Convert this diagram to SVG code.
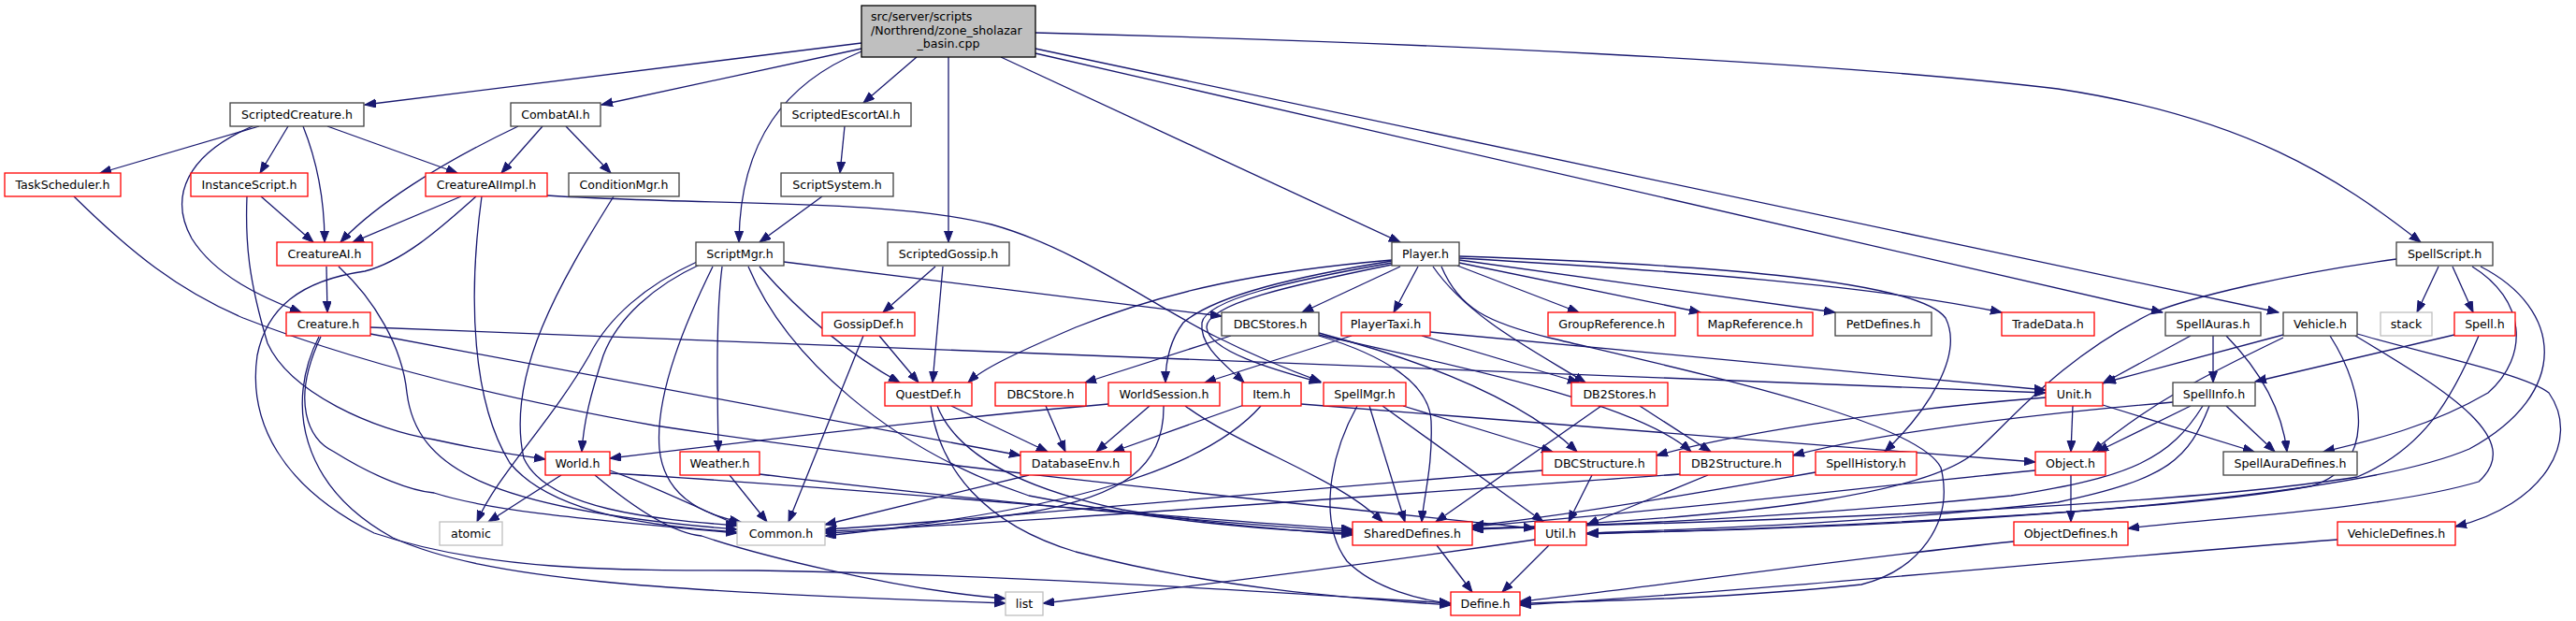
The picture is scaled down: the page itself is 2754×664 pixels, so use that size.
<svg xmlns="http://www.w3.org/2000/svg" width="2754" height="664" viewBox="0 0 2754 664">
<defs>
<style>
.bg{fill:#fff}
rect.n{fill:#fff;stroke:#404040;stroke-width:1.3}
rect.r{fill:#fff;stroke:#ff0000;stroke-width:1.3}
rect.g{fill:#fff;stroke:#bfbfbf;stroke-width:1.3}
rect.root{fill:#bfbfbf;stroke:#000;stroke-width:1.3}
text{font-family:"DejaVu Sans","Liberation Sans",sans-serif;font-size:12.6px;fill:#000;text-anchor:middle}
text.l{text-anchor:start}
#edges path{fill:none;stroke:#191970;stroke-width:1.3;marker-end:url(#ah)}
</style>
<marker id="ah" markerUnits="userSpaceOnUse" markerWidth="13" markerHeight="10" refX="12" refY="4.5" orient="auto">
<path d="M0,0 L12,4.5 L0,9 z" fill="#191970" stroke="#191970" stroke-width="1"/>
</marker>
</defs>
<rect class="bg" x="0" y="0" width="2754" height="664"/>
<g id="edges">
<path d="M921,46 L390,112"/>
<path d="M921,52 L643,112"/>
<path d="M921,55 C840,88 791,150 790,259"/>
<path d="M980,61 L923,110"/>
<path d="M1014,61 L1014,259"/>
<path d="M1070,61 L1497,259"/>
<path d="M1107,35 C1500,45 1950,65 2200,95 C2400,125 2500,190 2588,259"/>
<path d="M1107,52 L2436,334"/>
<path d="M1107,57 L2312,334"/>
<path d="M277,135 L107,185"/>
<path d="M270,135 C200,165 180,210 205,255 C230,295 280,318 322,334"/>
<path d="M308,135 L278,185"/>
<path d="M324,135 C340,175 347,215 347,259"/>
<path d="M350,135 L489,185"/>
<path d="M554,135 C470,175 400,220 364,259"/>
<path d="M580,135 L536,185"/>
<path d="M605,135 L653,185"/>
<path d="M903,135 L898,185"/>
<path d="M879,210 L812,259"/>
<path d="M79,210 C140,270 190,310 260,340 C400,395 560,430 700,455 C1000,500 1400,540 1641,565"/>
<path d="M279,210 L335,259"/>
<path d="M264,210 C262,260 266,300 286,367 C310,420 400,460 464,470 C500,478 540,485 583,491"/>
<path d="M493,210 L377,259"/>
<path d="M509,210 C470,245 430,280 390,290 C320,300 285,330 275,380 C265,450 300,520 400,570 C520,610 650,610 810,610 C1100,615 1400,636 1551,645"/>
<path d="M515,210 C500,320 505,430 545,495 C590,550 700,563 788,569"/>
<path d="M585,209 C750,220 950,212 1060,240 C1150,265 1230,325 1300,360 C1350,385 1390,400 1412,408"/>
<path d="M656,210 C600,300 540,400 560,490 C585,545 700,555 788,562"/>
<path d="M349,285 L350,334"/>
<path d="M362,285 C400,320 430,370 435,420 C445,500 520,545 788,566"/>
<path d="M396,350 L2187,420"/>
<path d="M396,357 L1091,487"/>
<path d="M343,360 C310,430 330,470 357,483 C400,510 440,525 464,527 C520,545 600,553 788,570"/>
<path d="M341,360 C305,430 320,520 420,575 C520,620 700,632 1075,645"/>
<path d="M838,280 L1306,338"/>
<path d="M812,285 C860,340 910,380 962,409"/>
<path d="M748,283 C700,305 660,340 645,380 C632,420 624,450 622,483"/>
<path d="M745,280 C690,305 650,340 630,380 C590,450 530,510 510,558"/>
<path d="M772,285 C765,340 767,420 768,483"/>
<path d="M762,285 C735,340 700,420 705,480 C710,530 750,550 792,558"/>
<path d="M800,285 C840,380 950,480 1100,530 C1250,560 1380,568 1446,570"/>
<path d="M1000,285 L944,334"/>
<path d="M1008,285 L997,409"/>
<path d="M940,359 L982,409"/>
<path d="M923,359 L843,558"/>
<path d="M1017,434 L1120,483"/>
<path d="M1002,434 C1020,480 1080,520 1200,545 C1300,562 1400,568 1446,572"/>
<path d="M995,434 C1005,500 1050,560 1150,590 C1300,630 1450,640 1551,647"/>
<path d="M1118,434 L1139,483"/>
<path d="M1229,434 L1172,483"/>
<path d="M1244,434 C1245,500 1200,530 1100,548 C1000,562 930,568 882,570"/>
<path d="M1185,432 C1000,448 800,472 652,490"/>
<path d="M1267,434 C1330,480 1430,510 1478,558"/>
<path d="M1330,433 L1190,483"/>
<path d="M1348,434 C1290,500 1150,545 882,573"/>
<path d="M1391,432 L2176,494"/>
<path d="M1488,278 C1350,290 1250,310 1150,350 C1080,380 1050,395 1035,409"/>
<path d="M1497,285 L1392,334"/>
<path d="M1488,279 C1390,295 1300,315 1265,345 C1250,365 1246,390 1246,409"/>
<path d="M1488,281 C1380,300 1290,320 1285,345 C1282,370 1310,390 1330,409"/>
<path d="M1488,283 C1380,305 1290,325 1290,350 C1292,375 1360,395 1412,409"/>
<path d="M1516,285 L1490,334"/>
<path d="M1558,284 L1688,334"/>
<path d="M1560,281 L1818,334"/>
<path d="M1560,278 L1962,334"/>
<path d="M1560,276 C1800,290 2000,305 2140,334"/>
<path d="M1560,274 C1800,282 2050,298 2080,340 C2100,380 2060,440 2015,483"/>
<path d="M1541,285 C1560,330 1590,345 1660,362 C1820,400 2050,450 2075,500 C2090,560 2050,610 1990,625 C1850,640 1700,643 1625,645"/>
<path d="M1532,285 C1570,340 1640,375 1695,409"/>
<path d="M1316,359 L1160,409"/>
<path d="M1410,356 C1500,380 1620,420 1686,483"/>
<path d="M1410,358 C1550,390 1750,430 1808,483"/>
<path d="M1410,359 C1480,380 1528,410 1530,450 C1532,500 1522,530 1520,558"/>
<path d="M1445,359 L1288,409"/>
<path d="M1520,359 L1688,409"/>
<path d="M1529,355 L2187,417"/>
<path d="M1500,434 L1660,483"/>
<path d="M1464,434 L1502,558"/>
<path d="M1478,434 L1650,558"/>
<path d="M1451,434 C1420,490 1410,560 1440,600 C1470,630 1520,642 1551,645"/>
<path d="M1753,434 L1829,483"/>
<path d="M1712,434 L1535,558"/>
<path d="M1702,508 L1677,558"/>
<path d="M1649,503 C1300,530 1000,560 882,566"/>
<path d="M1826,508 L1697,561"/>
<path d="M1796,507 C1400,535 1000,565 882,568"/>
<path d="M1941,505 C1800,530 1650,555 1574,562"/>
<path d="M1536,583 L1574,633"/>
<path d="M1656,583 L1606,633"/>
<path d="M1641,577 C1450,605 1250,630 1115,645"/>
<path d="M2153,579 C1950,600 1750,630 1625,643"/>
<path d="M2499,577 C2200,600 1900,630 1625,647"/>
<path d="M652,503 C700,520 750,545 790,562"/>
<path d="M600,508 L522,558"/>
<path d="M636,508 C680,545 720,570 750,573 C800,590 950,630 1075,640"/>
<path d="M652,506 C900,520 1200,550 1446,566"/>
<path d="M780,508 L820,558"/>
<path d="M812,507 C1000,530 1300,560 1446,568"/>
<path d="M1100,508 L882,561"/>
<path d="M2216,434 L2214,483"/>
<path d="M2248,433 L2410,483"/>
<path d="M2187,425 C2000,440 1850,465 1771,487"/>
<path d="M2342,434 L2242,483"/>
<path d="M2380,434 L2432,483"/>
<path d="M2323,430 C2150,445 2000,465 1917,487"/>
<path d="M2355,434 C2320,490 2280,510 2150,530 C1900,555 1700,562 1574,566"/>
<path d="M2362,434 C2340,490 2320,512 2200,537 C2000,560 1800,566 1697,570"/>
<path d="M2214,508 L2214,558"/>
<path d="M2176,503 C2000,520 1800,545 1574,563"/>
<path d="M2441,358 L2250,409"/>
<path d="M2441,361 C2360,400 2300,430 2237,483"/>
<path d="M2491,359 C2530,420 2540,500 2470,520 C2300,550 1900,565 1697,571"/>
<path d="M2518,359 C2620,420 2700,470 2650,515 C2550,545 2350,555 2275,565"/>
<path d="M2520,357 C2600,380 2700,400 2725,420 C2760,470 2720,540 2625,563"/>
<path d="M2342,359 L2248,410"/>
<path d="M2366,359 L2366,409"/>
<path d="M2380,359 C2420,400 2440,440 2445,483"/>
<path d="M2624,358 L2411,408"/>
<path d="M2650,359 C2620,430 2590,480 2520,510 C2300,545 1800,560 1574,565"/>
<path d="M2607,285 L2584,334"/>
<path d="M2622,285 L2644,334"/>
<path d="M2643,285 C2700,320 2705,380 2660,420 C2600,455 2540,470 2484,483"/>
<path d="M2652,285 C2740,330 2750,420 2640,480 C2500,540 2000,566 1697,570"/>
<path d="M2562,277 C2450,292 2340,318 2300,335 C2200,385 2150,450 2110,485 C2060,525 1900,552 1574,566"/>
</g>
<g id="root"><rect class="root" x="921" y="6" width="186" height="55"/><text class="l" x="931" y="22">src/server/scripts</text><text class="l" x="931" y="37">/Northrend/zone_sholazar</text><text x="1014" y="51">_basin.cpp</text></g>
<g id="ScriptedCreature"><rect class="n" x="246" y="110" width="143" height="25"/><text x="317.5" y="127">ScriptedCreature.h</text></g>
<g id="CombatAI"><rect class="n" x="546" y="110" width="96" height="25"/><text x="594" y="127">CombatAI.h</text></g>
<g id="ScriptedEscortAI"><rect class="n" x="835" y="110" width="139" height="25"/><text x="904.5" y="127">ScriptedEscortAI.h</text></g>
<g id="TaskScheduler"><rect class="r" x="5" y="185" width="124" height="25"/><text x="67" y="202">TaskScheduler.h</text></g>
<g id="InstanceScript"><rect class="r" x="204" y="185" width="125" height="25"/><text x="266.5" y="202">InstanceScript.h</text></g>
<g id="CreatureAIImpl"><rect class="r" x="455" y="185" width="130" height="25"/><text x="520" y="202">CreatureAIImpl.h</text></g>
<g id="ConditionMgr"><rect class="n" x="608" y="185" width="118" height="25"/><text x="667" y="202">ConditionMgr.h</text></g>
<g id="ScriptSystem"><rect class="n" x="835" y="185" width="120" height="25"/><text x="895" y="202">ScriptSystem.h</text></g>
<g id="CreatureAI"><rect class="r" x="296" y="259" width="102" height="25"/><text x="347" y="276">CreatureAI.h</text></g>
<g id="ScriptMgr"><rect class="n" x="744" y="259" width="94" height="25"/><text x="791" y="276">ScriptMgr.h</text></g>
<g id="ScriptedGossip"><rect class="n" x="949" y="259" width="130" height="25"/><text x="1014" y="276">ScriptedGossip.h</text></g>
<g id="Player"><rect class="n" x="1488" y="259" width="72" height="25"/><text x="1524" y="276">Player.h</text></g>
<g id="SpellScript"><rect class="n" x="2562" y="259" width="103" height="25"/><text x="2613.5" y="276">SpellScript.h</text></g>
<g id="Creature"><rect class="r" x="306" y="334" width="90" height="25"/><text x="351" y="351">Creature.h</text></g>
<g id="GossipDef"><rect class="r" x="879" y="334" width="99" height="25"/><text x="928.5" y="351">GossipDef.h</text></g>
<g id="DBCStores"><rect class="n" x="1306" y="334" width="104" height="25"/><text x="1358" y="351">DBCStores.h</text></g>
<g id="PlayerTaxi"><rect class="r" x="1434" y="334" width="95" height="25"/><text x="1481.5" y="351">PlayerTaxi.h</text></g>
<g id="GroupReference"><rect class="r" x="1655" y="334" width="136" height="25"/><text x="1723" y="351">GroupReference.h</text></g>
<g id="MapReference"><rect class="r" x="1815" y="334" width="123" height="25"/><text x="1876.5" y="351">MapReference.h</text></g>
<g id="PetDefines"><rect class="n" x="1962" y="334" width="103" height="25"/><text x="2013.5" y="351">PetDefines.h</text></g>
<g id="TradeData"><rect class="r" x="2140" y="334" width="99" height="25"/><text x="2189.5" y="351">TradeData.h</text></g>
<g id="SpellAuras"><rect class="n" x="2315" y="334" width="102" height="25"/><text x="2366" y="351">SpellAuras.h</text></g>
<g id="Vehicle"><rect class="n" x="2441" y="334" width="79" height="25"/><text x="2480.5" y="351">Vehicle.h</text></g>
<g id="stack"><rect class="g" x="2545" y="334" width="55" height="25"/><text x="2572.5" y="351">stack</text></g>
<g id="Spell"><rect class="r" x="2624" y="334" width="65" height="25"/><text x="2656.5" y="351">Spell.h</text></g>
<g id="QuestDef"><rect class="r" x="946" y="409" width="93" height="25"/><text x="992.5" y="426">QuestDef.h</text></g>
<g id="DBCStore"><rect class="r" x="1064" y="409" width="97" height="25"/><text x="1112.5" y="426">DBCStore.h</text></g>
<g id="WorldSession"><rect class="r" x="1185" y="409" width="119" height="25"/><text x="1244.5" y="426">WorldSession.h</text></g>
<g id="Item"><rect class="r" x="1328" y="409" width="63" height="25"/><text x="1359.5" y="426">Item.h</text></g>
<g id="SpellMgr"><rect class="r" x="1415" y="409" width="88" height="25"/><text x="1459" y="426">SpellMgr.h</text></g>
<g id="DB2Stores"><rect class="r" x="1680" y="409" width="103" height="25"/><text x="1731.5" y="426">DB2Stores.h</text></g>
<g id="Unit"><rect class="r" x="2187" y="409" width="61" height="25"/><text x="2217.5" y="426">Unit.h</text></g>
<g id="SpellInfo"><rect class="n" x="2323" y="409" width="88" height="25"/><text x="2367" y="426">SpellInfo.h</text></g>
<g id="World"><rect class="r" x="583" y="483" width="69" height="25"/><text x="617.5" y="500">World.h</text></g>
<g id="Weather"><rect class="r" x="727" y="483" width="85" height="25"/><text x="769.5" y="500">Weather.h</text></g>
<g id="DatabaseEnv"><rect class="r" x="1091" y="483" width="118" height="25"/><text x="1150" y="500">DatabaseEnv.h</text></g>
<g id="DBCStructure"><rect class="r" x="1649" y="483" width="122" height="25"/><text x="1710" y="500">DBCStructure.h</text></g>
<g id="DB2Structure"><rect class="r" x="1796" y="483" width="121" height="25"/><text x="1856.5" y="500">DB2Structure.h</text></g>
<g id="SpellHistory"><rect class="r" x="1941" y="483" width="108" height="25"/><text x="1995" y="500">SpellHistory.h</text></g>
<g id="Object"><rect class="r" x="2176" y="483" width="75" height="25"/><text x="2213.5" y="500">Object.h</text></g>
<g id="SpellAuraDefines"><rect class="n" x="2377" y="483" width="143" height="25"/><text x="2448.5" y="500">SpellAuraDefines.h</text></g>
<g id="atomic"><rect class="g" x="470" y="558" width="67" height="25"/><text x="503.5" y="575">atomic</text></g>
<g id="Common"><rect class="g" x="788" y="558" width="94" height="25"/><text x="835" y="575">Common.h</text></g>
<g id="SharedDefines"><rect class="r" x="1446" y="558" width="128" height="25"/><text x="1510" y="575">SharedDefines.h</text></g>
<g id="Util"><rect class="r" x="1641" y="558" width="55" height="25"/><text x="1668.5" y="575">Util.h</text></g>
<g id="ObjectDefines"><rect class="r" x="2153" y="558" width="122" height="25"/><text x="2214" y="575">ObjectDefines.h</text></g>
<g id="VehicleDefines"><rect class="r" x="2499" y="558" width="126" height="25"/><text x="2562" y="575">VehicleDefines.h</text></g>
<g id="list"><rect class="g" x="1075" y="633" width="40" height="25"/><text x="1095" y="650">list</text></g>
<g id="Define"><rect class="r" x="1551" y="633" width="74" height="25"/><text x="1588" y="650">Define.h</text></g>
</svg>
